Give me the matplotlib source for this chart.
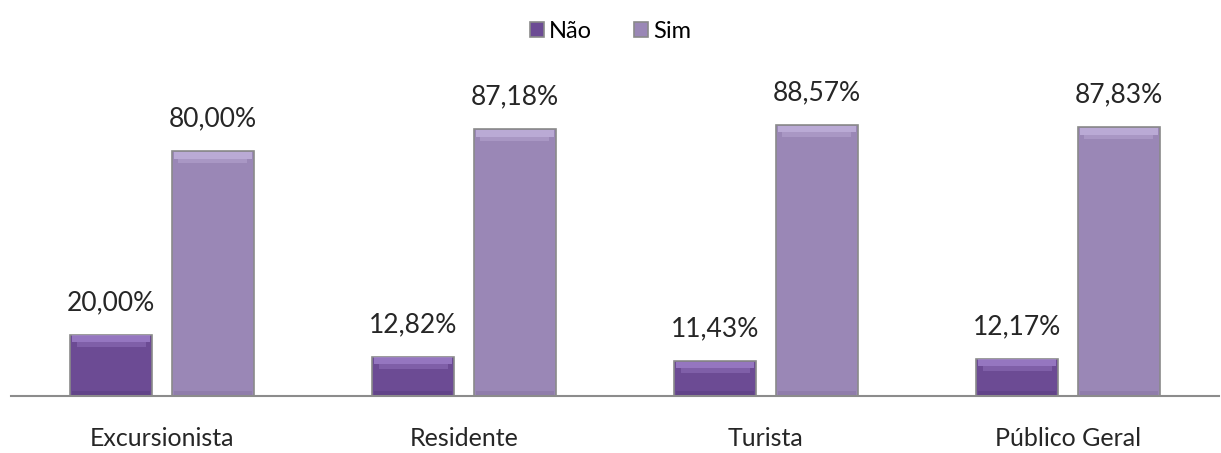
import matplotlib.pyplot as plt
import numpy as np

categories = ["Excursionista", "Residente", "Turista", "Público Geral"]
nao = [20.00, 12.82, 11.43, 12.17]
sim = [80.00, 87.18, 88.57, 87.83]

plt.rcParams['font.family'] = ['Lato', 'DejaVu Sans']

fig = plt.figure(figsize=(12.21, 4.53), dpi=100)
ax = fig.add_axes([11 / 1221, 57 / 453, 1208 / 1221, 306 / 453])

x = np.arange(len(categories))
w = 0.27
off = 0.168

series = [
    (nao, -off, "Não", "#6c4b94", "#a385cf", "#4e3470"),
    (sim, off, "Sim", "#9a87b6", "#c6b7e0", "#7a6894"),
]

for vals, dx, label, body, light, edge in series:
    ax.bar(x + dx, vals, w, color=body, edgecolor="#8a8a8a", linewidth=1.2,
           label=label, zorder=2)
    # soft bevel: light band at the top, darker band at the foot
    ax.bar(x + dx, [2.2] * len(vals), w * 0.96, bottom=np.array(vals) - 2.4,
           color=light, alpha=0.75, linewidth=0, zorder=3)
    ax.bar(x + dx, [1.6] * len(vals), w * 0.84, bottom=np.array(vals) - 4.0,
           color=light, alpha=0.35, linewidth=0, zorder=3)
    ax.bar(x + dx, [1.5] * len(vals), w * 0.96, bottom=0.2,
           color=edge, alpha=0.3, linewidth=0, zorder=3)
    for xi, v in zip(x + dx, vals):
        ax.text(xi, v + 6.5, f"{v:.2f}%".replace(".", ","), ha="center",
                va="bottom", fontsize=19, color="#262626")

ax.set_xlim(-0.5, 3.5)
ax.set_ylim(0, 100)
ax.set_yticks([])
ax.set_xticks(x)
ax.set_xticklabels(categories, fontsize=18, color="#262626")
ax.tick_params(axis="x", length=0, pad=22)
for s in ["top", "left", "right"]:
    ax.spines[s].set_visible(False)
ax.spines["bottom"].set_color("#8c8c8c")
ax.spines["bottom"].set_linewidth(1.5)

fig.legend(loc="upper center", bbox_to_anchor=(0.5, 1.0), ncol=2,
           frameon=False, fontsize=17, handlelength=0.6, handleheight=0.6,
           handletextpad=0.2, columnspacing=1.8)

fig.savefig("out.png", dpi=100)
